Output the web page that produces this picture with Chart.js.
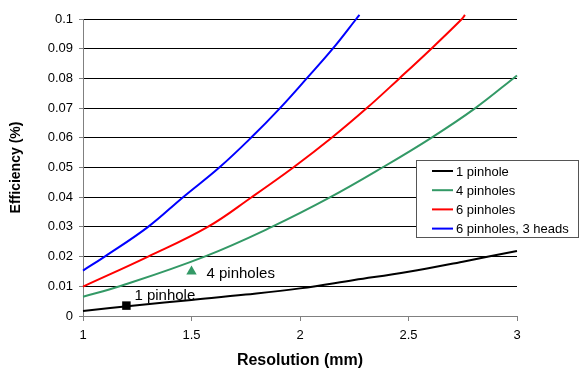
<!DOCTYPE html>
<html>
<head>
<meta charset="utf-8">
<script src="https://cdn.jsdelivr.net/npm/chart.js@4/dist/chart.umd.min.js"></script>
<style>
  html, body { margin: 0; padding: 0; background: #fff; }
  #wrap { width: 580px; height: 373px; }
</style>
</head>
<body>
<div id="wrap"><canvas id="myChart" width="580" height="373"></canvas></div>
<script>
// values
const seriesNames = ["1 pinhole", "4 pinholes", "6 pinholes", "6 pinholes, 3 heads"];
const seriesColors = ["#000000", "#339966", "#ff0000", "#0000ff"];

const onePinX = [1, 1.25, 1.5, 1.75, 2, 2.25, 2.5, 2.75, 3];
const onePinY = [0.0017, 0.0036, 0.0054, 0.0072, 0.0093, 0.0121, 0.0149, 0.0183, 0.0219];

const fourPinX = [1, 1.169, 1.56, 1.87, 2.14, 2.38, 2.605, 2.808, 3];
const fourPinY = [0.0065, 0.01, 0.02, 0.03, 0.04, 0.05, 0.06, 0.07, 0.081];

const sixPinX = [1, 1.30, 1.575, 1.777, 1.969, 2.146, 2.308, 2.458, 2.605, 2.746, 2.76];
const sixPinY = [0.0099, 0.02, 0.03, 0.04, 0.05, 0.06, 0.07, 0.08, 0.09, 0.1, 0.1014];

const sixHeadX = [1, 1.10, 1.30, 1.461, 1.628, 1.774, 1.908, 2.031, 2.151, 2.259, 2.274];
const sixHeadY = [0.0153, 0.02, 0.03, 0.04, 0.05, 0.06, 0.07, 0.08, 0.09, 0.1, 0.1014];

// single measured points with their labels
const markX = [1.2, 1.5];
const markY = [0.0035, 0.015];
const markLabels = ["1 pinhole", "4 pinholes"];

const xTicks = ["1", "1.5", "2", "2.5", "3"];
const yTicks = ["0", "0.01", "0.02", "0.03", "0.04", "0.05", "0.06", "0.07", "0.08", "0.09", "0.1"];

const FONT = "'Liberation Sans', Arial, sans-serif";

function pts(xs, ys) {
  return xs.map((x, i) => ({ x: x, y: ys[i] }));
}

const lineX = [onePinX, fourPinX, sixPinX, sixHeadX];
const lineY = [onePinY, fourPinY, sixPinY, sixHeadY];

const datasets = seriesNames.map((name, i) => ({
  label: name,
  data: pts(lineX[i], lineY[i]),
  showLine: true,
  borderColor: seriesColors[i],
  backgroundColor: seriesColors[i],
  borderWidth: 2,
  pointRadius: 0,
  tension: 0.4,
  clip: 6,
}));

datasets.push({
  label: "mark1",
  data: [{ x: markX[0], y: markY[0] }],
  pointStyle: "rect",
  pointRadius: 6,
  backgroundColor: "#000000",
  borderColor: "#000000",
  borderWidth: 0,
});
datasets.push({
  label: "mark4",
  data: [{ x: markX[1], y: markY[1] }],
  pointStyle: "triangle",
  pointRadius: 6,
  backgroundColor: "#339966",
  borderColor: "#339966",
  borderWidth: 0,
});

// labels next to the single points
const pointLabels = {
  id: "pointLabels",
  afterDatasetsDraw(chart) {
    const c = chart.ctx;
    const xs = chart.scales.x, ys = chart.scales.y;
    c.save();
    c.font = "15px " + FONT;
    c.fillStyle = "#000";
    c.textBaseline = "middle";
    c.fillText(markLabels[0], xs.getPixelForValue(markX[0]) + 8, ys.getPixelForValue(markY[0]) - 10);
    c.fillText(markLabels[1], xs.getPixelForValue(markX[1]) + 15, ys.getPixelForValue(markY[1]) + 2);
    c.restore();
  }
};

// boxed legend like the original
const boxLegend = {
  id: "boxLegend",
  afterDraw(chart) {
    const c = chart.ctx;
    const left = 416.5, top = 160.5, w = 162, h = 77;
    c.save();
    c.fillStyle = "#fff";
    c.fillRect(left, top, w, h);
    c.strokeStyle = "#555";
    c.lineWidth = 1;
    c.strokeRect(left, top, w, h);
    c.font = "13px " + FONT;
    c.textBaseline = "middle";
    for (let i = 0; i < seriesNames.length; i++) {
      const y = 171 + i * 19.2;
      c.strokeStyle = seriesColors[i];
      c.lineWidth = 2;
      c.beginPath();
      c.moveTo(432, y);
      c.lineTo(453, y);
      c.stroke();
      c.fillStyle = "#000";
      c.fillText(seriesNames[i], 456, y + 1);
    }
    c.restore();
  }
};

const ctx = document.getElementById("myChart").getContext("2d");

const config = {
  type: "scatter",
  data: { datasets: datasets },
  options: {
    responsive: false,
    animation: false,
    layout: { padding: { top: 19, right: 63, left: 0, bottom: 0 } },
    plugins: {
      legend: { display: false },
      tooltip: { enabled: false },
    },
    scales: {
      x: {
        type: "linear",
        min: 1,
        max: 3,
        afterFit(scale) { scale.height = 57; },
        afterBuildTicks(scale) {
          scale.ticks = xTicks.map(t => ({ value: parseFloat(t) }));
        },
        ticks: {
          callback: (v) => xTicks.find(t => parseFloat(t) === v) || "",
          color: "#000",
          font: { family: FONT, size: 13 },
          padding: 7,
          maxRotation: 0,
        },
        grid: { drawOnChartArea: false, tickLength: 5, tickColor: "#808080" },
        border: { color: "#808080", width: 1 },
        title: {
          display: true,
          text: "Resolution (mm)",
          color: "#000",
          font: { family: FONT, size: 16, weight: "bold" },
          padding: { top: 0, bottom: 3 },
        },
      },
      y: {
        min: 0,
        max: 0.1,
        afterFit(scale) { scale.width = 83; },
        afterBuildTicks(scale) {
          scale.ticks = yTicks.map(t => ({ value: parseFloat(t) }));
        },
        ticks: {
          callback: (v, i) => yTicks[i],
          color: "#000",
          font: { family: FONT, size: 13 },
          padding: 6,
        },
        grid: { color: "#000000", lineWidth: 1, tickLength: 4, tickColor: "#808080" },
        border: { color: "#808080", width: 1 },
        title: {
          display: true,
          text: "Efficiency (%)",
          color: "#000",
          font: { family: FONT, size: 14, weight: "bold" },
          padding: { top: 8, bottom: 0 },
        },
      },
    },
  },
  plugins: [pointLabels, boxLegend],
};

const myChart = new Chart(ctx, config);
</script>
</body>
</html>
